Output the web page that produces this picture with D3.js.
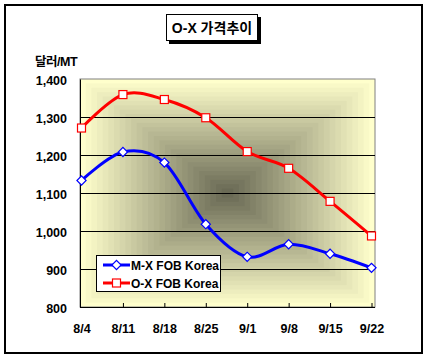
<!DOCTYPE html>
<html lang="ko">
<head>
<meta charset="utf-8">
<title>O-X 가격추이</title>
<script src="https://d3js.org/d3.v7.min.js"></script>
<style>
  body { margin: 0; background: #fff; }
  text { font-family: "Liberation Sans", Arial, "Noto Sans CJK KR", sans-serif; font-weight: bold; fill: #000; }
</style>
</head>
<body>
<script>
// chart data
var weeks = ['8/4', '8/11', '8/18', '8/25', '9/1', '9/8', '9/15', '9/22'];
var mxFob = [1133, 1208, 1180, 1018, 932, 965, 940, 903];
var oxFob = [1271, 1359, 1346, 1298, 1209, 1165, 1078, 987];
var yTicks = [800, 900, 1000, 1100, 1200, 1300, 1400];
var seriesNames = ['M-X FOB Korea', 'O-X FOB Korea'];

var w = 432, h = 358;
var plot = { left: 80, right: 375, top: 79, bottom: 307 };

var svg = d3.select('body').append('svg')
  .attr('width', w)
  .attr('height', h);

// outer frame
svg.append('rect')
  .attr('x', 5).attr('y', 5)
  .attr('width', 417).attr('height', 348)
  .attr('fill', '#fff')
  .attr('stroke', '#000')
  .attr('stroke-width', 2);

var x = d3.scalePoint()
  .domain(weeks)
  .range([plot.left + 1.5, plot.right - 3.5]);

var y = d3.scaleLinear()
  .domain([800, 1400])
  .range([plot.bottom, plot.top]);

// plot area: rectangular "from centre" shading, built as nested bands
var bands = 26;
var shade = d3.interpolateRgb('#ffffcc', '#6a6a55');
var pw = plot.right - plot.left, ph = plot.bottom - plot.top;
var cx = plot.left + pw / 2, cy = plot.top + ph / 2;
svg.append('g').selectAll('rect')
  .data(d3.range(bands))
  .enter().append('rect')
  .attr('x', function(i) { return cx - (pw / 2) * (1 - i / bands); })
  .attr('y', function(i) { return cy - (ph / 2) * (1 - i / bands); })
  .attr('width', function(i) { return pw * (1 - i / bands); })
  .attr('height', function(i) { return ph * (1 - i / bands); })
  .attr('fill', function(i) { return shade(i / (bands - 1)); });

svg.append('rect')
  .attr('x', plot.left).attr('y', plot.top)
  .attr('width', pw).attr('height', ph)
  .attr('fill', 'none')
  .attr('stroke', '#808080')
  .attr('stroke-width', 1);

// gridlines
svg.append('g').selectAll('line')
  .data(yTicks.slice(1, -1))
  .enter().append('line')
  .attr('x1', plot.left).attr('x2', plot.right)
  .attr('y1', function(d) { return Math.round(y(d)) + 0.5; })
  .attr('y2', function(d) { return Math.round(y(d)) + 0.5; })
  .attr('stroke', '#000')
  .attr('stroke-width', 1);

// y axis
var yAxis = svg.append('g')
  .attr('transform', 'translate(' + plot.left + ',0)')
  .call(d3.axisLeft(y).tickValues(yTicks).tickSize(0).tickPadding(13)
    .tickFormat(d3.format(',')));
yAxis.select('.domain').attr('stroke', '#000');
yAxis.selectAll('text')
  .attr('font-size', '12.5px')
  .attr('dy', '0.42em')
  .style('font-family', '"Liberation Sans", Arial, sans-serif')
  .style('font-weight', 'bold');

// x axis: ticks point up into the plot
var xAxis = svg.append('g')
  .attr('transform', 'translate(0,' + plot.bottom + ')')
  .call(d3.axisBottom(x).tickSizeInner(-4).tickSizeOuter(0).tickPadding(17));
xAxis.select('.domain').attr('stroke', '#000').attr('d', 'M' + plot.left + ',0.5H' + plot.right);
xAxis.selectAll('.tick line').attr('stroke', '#000');
xAxis.selectAll('.tick').filter(function(d, i) { return i === 0; }).select('line').remove();
xAxis.selectAll('text')
  .attr('font-size', '12.5px')
  .style('font-family', '"Liberation Sans", Arial, sans-serif')
  .style('font-weight', 'bold');

// lines
var line = d3.line()
  .x(function(d, i) { return x(weeks[i]); })
  .y(function(d) { return y(d); })
  .curve(d3.curveCardinal.tension(0));

svg.append('path')
  .datum(mxFob)
  .attr('d', line)
  .attr('fill', 'none')
  .attr('stroke', '#0000ff')
  .attr('stroke-width', 3);

svg.append('path')
  .datum(oxFob)
  .attr('d', line)
  .attr('fill', 'none')
  .attr('stroke', '#ff0000')
  .attr('stroke-width', 3);

// markers
var diamond = d3.symbol().type(d3.symbolSquare).size(42);
svg.append('g').selectAll('path')
  .data(mxFob)
  .enter().append('path')
  .attr('d', diamond)
  .attr('transform', function(d, i) { return 'translate(' + x(weeks[i]) + ',' + y(d) + ') rotate(45)'; })
  .attr('fill', '#fff')
  .attr('stroke', '#0000ff')
  .attr('stroke-width', 1.2);

svg.append('g').selectAll('rect')
  .data(oxFob)
  .enter().append('rect')
  .attr('x', function(d, i) { return x(weeks[i]) - 4; })
  .attr('y', function(d) { return y(d) - 4; })
  .attr('width', 8).attr('height', 8)
  .attr('fill', '#fff')
  .attr('stroke', '#ff0000')
  .attr('stroke-width', 1.2);

// unit label
svg.append('text')
  .attr('x', 35).attr('y', 66)
  .attr('font-size', '12.5px')
  .style('letter-spacing', '-0.5px')
  .text('달러/MT');

// title box with shadow
svg.append('rect')
  .attr('x', 169).attr('y', 17)
  .attr('width', 92).attr('height', 27)
  .attr('fill', '#000');
svg.append('rect')
  .attr('x', 166.5).attr('y', 14.5)
  .attr('width', 91).attr('height', 26)
  .attr('fill', '#fff')
  .attr('stroke', '#000')
  .attr('stroke-width', 1);
svg.append('text')
  .attr('x', 212).attr('y', 33)
  .attr('text-anchor', 'middle')
  .attr('font-size', '14px')
  .text('O-X 가격추이');

// legend
var legend = svg.append('g');
legend.append('rect')
  .attr('x', 96.5).attr('y', 255.5)
  .attr('width', 124).attr('height', 36)
  .attr('fill', '#fff')
  .attr('stroke', '#000')
  .attr('stroke-width', 1);

var legendColors = ['#0000ff', '#ff0000'];
var rows = legend.selectAll('g.row')
  .data(seriesNames)
  .enter().append('g')
  .attr('class', 'row')
  .attr('transform', function(d, i) { return 'translate(0,' + (265 + i * 18) + ')'; });

rows.append('line')
  .attr('x1', 103).attr('x2', 130)
  .attr('y1', 0).attr('y2', 0)
  .attr('stroke', function(d, i) { return legendColors[i]; })
  .attr('stroke-width', 3);

rows.filter(function(d, i) { return i === 0; }).append('path')
  .attr('d', diamond)
  .attr('transform', 'translate(116.5,0) rotate(45)')
  .attr('fill', '#fff')
  .attr('stroke', '#0000ff')
  .attr('stroke-width', 1.2);

rows.filter(function(d, i) { return i === 1; }).append('rect')
  .attr('x', 112.5).attr('y', -4)
  .attr('width', 8).attr('height', 8)
  .attr('fill', '#fff')
  .attr('stroke', '#ff0000')
  .attr('stroke-width', 1.2);

rows.append('text')
  .attr('x', 131).attr('y', 4.5)
  .attr('font-size', '12px')
  .text(function(d) { return d; });
</script>
</body>
</html>
